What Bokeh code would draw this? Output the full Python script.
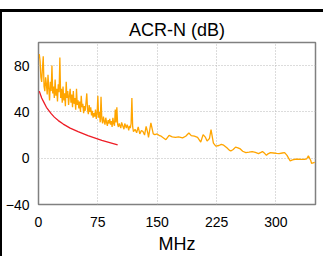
from bokeh.plotting import figure
from bokeh.models import Div, Title, FixedTicker, Range1d
from bokeh.layouts import column
from bokeh.embed import file_html
from bokeh.resources import INLINE

title_text = "ACR-N (dB)"
x_label = "MHz"
x_ticks = [0, 75, 150, 225, 300]
y_ticks = [-40, 0, 40, 80]

measured_f = [1, 2, 3, 4, 5, 6, 7, 8, 9, 10,
              11, 12, 13, 14, 15, 16, 17, 18, 19, 20,
              21, 22, 23, 24, 25, 26, 27, 28, 29, 30,
              31, 32, 33, 34, 35, 36, 37, 38, 39, 40,
              41, 42, 43, 44, 45, 46, 47, 48, 49, 50,
              51, 52, 53, 54, 55, 56, 57, 58, 59, 60,
              61, 62, 63, 64, 65, 66, 67, 68, 69, 70,
              71, 72, 73, 74, 75, 76, 77, 78, 79, 80,
              81, 82, 83, 84, 85, 86, 87, 88, 89, 90,
              91, 92, 93, 94, 95, 96, 97, 98, 99, 100,
              101, 102, 103, 104, 105, 106, 107, 108, 109, 110,
              111, 112, 113, 114, 115, 116, 117, 118, 119, 120,
              122, 124, 126, 128, 130, 132, 134, 136, 138, 139,
              142, 145, 147, 150, 153, 155, 158, 161, 165, 169,
              173, 177, 182, 186, 190, 193, 197, 201, 205, 208,
              211, 213, 216, 218, 221, 224, 228, 231, 234, 238,
              241, 243, 246, 249, 252, 255, 258, 262, 266, 270,
              274, 278, 281, 283, 286, 288, 290, 293, 297, 301,
              304, 308, 311, 314, 318, 321, 324, 328, 332, 336,
              339, 341, 344, 345, 349]
measured_db = [90, 84, 70, 66, 78, 88, 62, 58, 70, 64,
               55, 72, 60, 50, 66, 58, 80, 56, 62, 52,
               68, 54, 60, 49, 64, 57, 87, 52, 60, 48,
               62, 50, 56, 45, 66, 52, 58, 46, 54, 60,
               48, 55, 44, 58, 47, 52, 42, 60, 46, 50,
               43, 49, 40, 54, 44, 47, 39, 45, 41, 48,
               56, 42, 38, 46, 40, 44, 37, 41, 35, 39,
               36, 42, 34, 38, 54, 35, 40, 31, 53, 34,
               30, 36, 32, 29, 35, 31, 28, 33, 30, 34,
               29, 32, 27, 35, 30, 28, 42, 31, 44, 29,
               27, 30, 28, 26, 31, 29, 27, 25, 30, 28,
               26, 29, 27, 24, 28, 26, 30, 52, 27, 23,
               25, 22, 27, 21, 24, 23, 20, 27.5, 22, 18,
               30.6, 21, 20.4, 21, 19.5, 19, 17.5, 16, 19.8, 18.5,
               18, 18.5, 17.6, 19, 21.8, 19.5, 19, 18, 14, 20.4,
               18, 14.8, 17, 24.7, 13, 10.5, 11, 12, 11.3, 9,
               7, 6.2, 7.5, 9.6, 9, 8, 6, 4.8, 5.2, 5.7,
               5, 4, 5, 5.7, 4, 2.5, 3.8, 4.8, 4.5, 4.2,
               4, 4.5, 4.8, 2.5, -2.3, -1.5, -0.9, -0.9, -1, -0.9,
               -0.5, 2, -2, -4.5, -3.7]

limit_f = [1, 2, 4, 7, 10, 16, 20, 25, 31.25, 40, 50, 62.5, 80, 100]
limit_db = [58, 56, 52, 48, 44, 38.5, 35.5, 32.5, 29.5, 26, 23, 19.5, 15.5, 11.5]

FONT = "Liberation Sans"

p = figure(width=321, height=244, output_backend="svg", toolbar_location=None,
           x_range=Range1d(0, 350), y_range=Range1d(-40, 100),
           min_border_left=35, min_border_right=8, min_border_top=30,
           min_border_bottom=50)

p.title.text = title_text
p.title.align = "center"
p.title.text_font = FONT
p.title.text_font_size = "18px"
p.title.text_font_style = "normal"
p.title.text_color = "#000000"
p.title.offset = -9
p.title.standoff = 6

p.line(measured_f, measured_db, color="#FFA500", line_width=1.3)
p.line(limit_f, limit_db, color="#EE1C25", line_width=1.3)

p.xaxis.ticker = FixedTicker(ticks=x_ticks)
p.yaxis.ticker = FixedTicker(ticks=y_ticks)
for ax in (p.xaxis[0], p.yaxis[0]):
    ax.axis_line_color = None
    ax.major_tick_line_color = None
    ax.minor_tick_line_color = None
    ax.major_tick_out = 0
    ax.major_tick_in = 0
    ax.major_label_text_font = FONT
    ax.major_label_text_font_size = "14px"
    ax.major_label_text_color = "#000000"
p.xaxis[0].major_label_standoff = 12
p.yaxis[0].major_label_standoff = 9

p.add_layout(Title(text=x_label, align="center", text_font=FONT,
                   text_font_size="18px", text_font_style="normal",
                   text_color="#000000", offset=-9, standoff=5), "below")

p.xgrid.grid_line_color = "#b8b8b8"
p.ygrid.grid_line_color = "#b8b8b8"
p.xgrid.grid_line_dash = "1 2"
p.ygrid.grid_line_dash = "1 2"
p.outline_line_color = "#808080"
p.outline_line_width = 1.5
p.background_fill_color = "white"
p.border_fill_color = "white"

top = Div(text="", width=321, height=1,
          styles={"border-left": "3px solid black", "border-bottom": "3px solid black",
                  "margin-top": "-8px", "margin-left": "-1px"})
box = column(p, styles={"border-left": "3px solid black", "border-top": "3px solid black",
                        "margin-top": "9px", "margin-left": "-1px"})
root = column(top, box, styles={"margin-bottom": "-10px"})

open("out.html", "w").write(file_html(root, INLINE))
